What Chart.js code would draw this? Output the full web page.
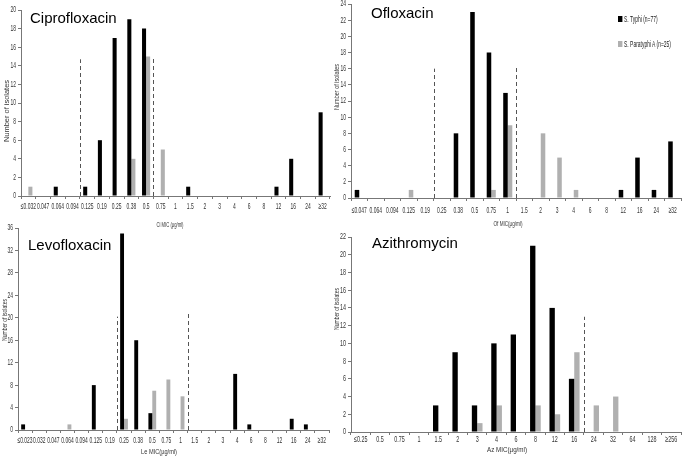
<!DOCTYPE html>
<html>
<head>
<meta charset="utf-8">
<script src="https://cdn.jsdelivr.net/npm/chart.js@4"></script>
<style>
  body { margin: 0; background: #fff; }
  #wrap { position: relative; width: 684px; height: 460px; overflow: hidden; }
  canvas { position: absolute; }
  .drug { position: absolute; font-family: 'Liberation Sans', Arial, sans-serif; font-size: 15px; line-height: 18px; color: #000; }
  .leg { position: absolute; font-family: 'Liberation Sans', Arial, sans-serif; font-size: 9px; line-height: 10px; color: #222; white-space: nowrap; transform: scaleX(0.55); transform-origin: 0 0; }
  .leg span { display: inline-block; width: 8px; height: 6px; margin-right: 3px; vertical-align: 0; }
</style>
</head>
<body>
<div id="wrap">
  <canvas id="cipro" width="336" height="230" style="left:0;top:0"></canvas>
  <canvas id="oflox" width="354" height="230" style="left:330px;top:0"></canvas>
  <canvas id="levo" width="336" height="240" style="left:0;top:220px"></canvas>
  <canvas id="azith" width="354" height="240" style="left:330px;top:220px"></canvas>
  <div class="drug" style="left:30px;top:9px">Ciprofloxacin</div>
  <div class="drug" style="left:371px;top:4px">Ofloxacin</div>
  <div class="drug" style="left:28px;top:236px">Levofloxacin</div>
  <div class="drug" style="left:372px;top:234px">Azithromycin</div>
  <div class="leg" style="left:618px;top:14px"><span style="background:#000"></span>S. Typhi (n=77)</div>
  <div class="leg" style="left:618px;top:39px"><span style="background:#b0b0b0"></span>S. Paratyphi A (n=25)</div>
</div>
<script>
// Ciprofloxacin
const ciproLabels = ['≤0.032', '0.047', '0.064', '0.094', '0.125', '0.19', '0.25', '0.38', '0.5', '0.75', '1', '1.5', '2', '3', '4', '6', '8', '12', '16', '24', '≥32'];
const ciproTyphi = [0, 0, 1, 0, 1, 6, 17, 19, 18, 0, 0, 1, 0, 0, 0, 0, 0, 1, 4, 0, 9];
const ciproParatyphi = [1, 0, 0, 0, 0, 0, 0, 4, 15, 5, 0, 0, 0, 0, 0, 0, 0, 0, 0, 0, 0];
const ciproCutAt = [3.5, 8.5];
const ciproCutTop = [14.7, 15];

// Ofloxacin
const ofloxLabels = ['≤0.047', '0.064', '0.094', '0.125', '0.19', '0.25', '0.38', '0.5', '0.75', '1', '1.5', '2', '3', '4', '6', '8', '12', '16', '24', '≥32'];
const ofloxTyphi = [1, 0, 0, 0, 0, 0, 8, 23, 18, 13, 0, 0, 0, 0, 0, 0, 1, 5, 1, 7];
const ofloxParatyphi = [0, 0, 0, 1, 0, 0, 0, 0, 1, 9, 0, 8, 5, 1, 0, 0, 0, 0, 0, 0];
const ofloxCutAt = [4.5, 9.5];
const ofloxCutTop = [16, 16.3];

// Levofloxacin
const levoLabels = ['≤0.023', '0.032', '0.047', '0.064', '0.094', '0.125', '0.19', '0.25', '0.38', '0.5', '0.75', '1', '1.5', '2', '3', '4', '6', '8', '12', '16', '24', '≥32'];
const levoTyphi = [1, 0, 0, 0, 0, 8, 0, 35, 16, 3, 0, 0, 0, 0, 0, 10, 1, 0, 0, 2, 1, 0];
const levoParatyphi = [0, 0, 0, 1, 0, 0, 0, 2, 0, 7, 9, 6, 0, 0, 0, 0, 0, 0, 0, 0, 0, 0];
const levoCutAt = [6.5, 11.5];
const levoCutTop = [20.2, 21.2];

// Azithromycin
const azithLabels = ['≤0.25', '0.5', '0.75', '1', '1.5', '2', '3', '4', '6', '8', '12', '16', '24', '32', '64', '128', '≥256'];
const azithTyphi = [0, 0, 0, 0, 3, 9, 3, 10, 11, 21, 14, 6, 0, 0, 0, 0, 0];
const azithParatyphi = [0, 0, 0, 0, 0, 0, 1, 3, 0, 3, 2, 9, 3, 4, 0, 0, 0];
const azithCutAt = [11.5];
const azithCutTop = [13];

const axisColor = '#777';
const textColor = '#333';
const fontFamily = '"Liberation Sans", Arial, sans-serif';

// dashed breakpoint lines, placed on the category scale
const cutoffLines = {
  id: 'cutoffLines',
  afterDatasetsDraw(chart, args, opts) {
    const { ctx, scales: { x, y } } = chart;
    ctx.save();
    ctx.strokeStyle = '#555';
    ctx.lineWidth = 1;
    ctx.setLineDash([4, 3]);
    opts.at.forEach((pos, i) => {
      const px = Math.round(x.getPixelForValue(pos)) + 0.5;
      ctx.beginPath();
      ctx.moveTo(px, y.getPixelForValue(0));
      ctx.lineTo(px, y.getPixelForValue(opts.top[i]));
      ctx.stroke();
    });
    ctx.restore();
  }
};

// the original uses squeezed, narrow axis text
function narrowText(ctx, text, px, py, sx, rot) {
  ctx.save();
  ctx.translate(px, py);
  if (rot) ctx.rotate(rot);
  ctx.scale(sx, 1);
  ctx.fillText(text, 0, 0);
  ctx.restore();
}

const axisText = {
  id: 'axisText',
  afterDraw(chart, args, o) {
    const { ctx, scales: { x, y } } = chart;
    ctx.save();
    ctx.fillStyle = textColor;
    ctx.textBaseline = 'middle';
    ctx.font = '9px ' + fontFamily;
    ctx.textAlign = 'center';
    x.ticks.forEach((t, i) => narrowText(ctx, t.label, x.getPixelForTick(i), o.xLabelY, o.tickScale, 0));
    ctx.textAlign = 'right';
    y.ticks.forEach((t, i) => narrowText(ctx, t.label, y.right - 5, y.getPixelForTick(i), o.tickScale, 0));
    ctx.font = '8px ' + fontFamily;
    ctx.textAlign = 'center';
    const xw = ctx.measureText(o.xTitle).width;
    narrowText(ctx, o.xTitle, o.xTitleX, o.xTitleY, o.xTitleW / xw, 0);
    const yw = ctx.measureText(o.yTitle).width;
    narrowText(ctx, o.yTitle, o.yTitleX, o.yTitleY, o.yTitleW / yw, -Math.PI / 2);
    ctx.restore();
  }
};

function makeChart(id, labels, typhi, paratyphi, yMax, yStep, cutAt, cutTop, xTitle, box) {
  new Chart(document.getElementById(id), {
    type: 'bar',
    data: {
      labels: labels,
      datasets: [
        { label: 'S. Typhi (n=77)', data: typhi, backgroundColor: '#000', categoryPercentage: 0.55, barPercentage: 1 },
        { label: 'S. Paratyphi A (n=25)', data: paratyphi, backgroundColor: '#b0b0b0', categoryPercentage: 0.55, barPercentage: 1 }
      ]
    },
    options: {
      responsive: false,
      animation: false,
      layout: { padding: { left: 0, right: box.padR, top: box.padT, bottom: 0 } },
      plugins: {
        legend: { display: false },
        tooltip: { enabled: false },
        cutoffLines: { at: cutAt, top: cutTop },
        axisText: {
          tickScale: box.tickScale, xLabelY: box.xLabelY,
          xTitle: xTitle, xTitleX: box.xTitleX, xTitleY: box.xTitleY, xTitleW: box.xTitleW,
          yTitle: 'Number of isolates', yTitleX: box.yTitleX, yTitleY: box.yTitleY, yTitleW: box.yTitleW
        }
      },
      scales: {
        x: {
          grid: { drawOnChartArea: false, tickLength: 3, color: axisColor },
          border: { color: axisColor },
          ticks: { display: false },
          afterFit(s) { s.height = box.xHeight; }
        },
        y: {
          min: 0,
          max: yMax,
          grid: { drawOnChartArea: false, tickLength: 3, color: axisColor },
          border: { color: axisColor },
          ticks: { stepSize: yStep, display: false },
          afterFit(s) { s.width = box.yWidth; }
        }
      }
    },
    plugins: [cutoffLines, axisText]
  });
}

makeChart('cipro', ciproLabels, ciproTyphi, ciproParatyphi, 20, 2, ciproCutAt, ciproCutTop, 'Ci MIC (µg/ml)',
  { padT: 10, padR: 6, yWidth: 21, xHeight: 34, tickScale: 0.55, xLabelY: 207,
    xTitleX: 170, xTitleY: 225, xTitleW: 27, yTitleX: 7, yTitleY: 111, yTitleW: 62 });
makeChart('oflox', ofloxLabels, ofloxTyphi, ofloxParatyphi, 24, 2, ofloxCutAt, ofloxCutTop, 'Of MIC(µg/ml)',
  { padT: 4, padR: 3, yWidth: 21, xHeight: 32, tickScale: 0.55, xLabelY: 211,
    xTitleX: 178, xTitleY: 224, xTitleW: 29, yTitleX: 7, yTitleY: 87, yTitleW: 46 });
makeChart('levo', levoLabels, levoTyphi, levoParatyphi, 36, 4, levoCutAt, levoCutTop, 'Le MIC(µg/ml)',
  { padT: 8, padR: 7, yWidth: 18, xHeight: 30, tickScale: 0.55, xLabelY: 221,
    xTitleX: 159, xTitleY: 232, xTitleW: 36, yTitleX: 5, yTitleY: 100, yTitleW: 42 });
makeChart('azith', azithLabels, azithTyphi, azithParatyphi, 22, 2, azithCutAt, azithCutTop, 'Az MIC(µg/ml)',
  { padT: 17, padR: 3, yWidth: 21, xHeight: 28, tickScale: 0.6, xLabelY: 220,
    xTitleX: 177, xTitleY: 230, xTitleW: 40, yTitleX: 7, yTitleY: 89, yTitleW: 42 });
</script>
</body>
</html>
